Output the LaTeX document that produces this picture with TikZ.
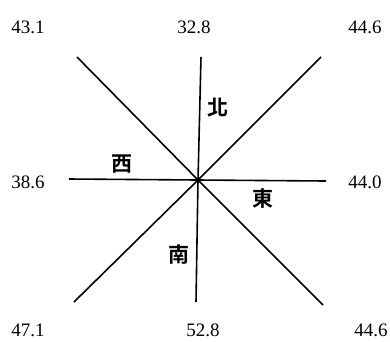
\documentclass[tikz,border=0pt]{standalone}
\usepackage{fontspec}
\setmainfont{Liberation Serif}
\newfontfamily\cjk{Noto Sans CJK TC}[BoldFont={* Bold}]
\usetikzlibrary{positioning}
\tikzset{
  ray/.style={line width=1.6pt,draw=black},
  val/.style={font=\fontsize{19}{20}\selectfont,inner sep=0pt},
  dir/.style={font=\cjk\bfseries\fontsize{21}{22}\selectfont,inner sep=0pt}
}

\begin{document}
\begin{tikzpicture}[x=1pt,y=-1pt]
  \useasboundingbox (0,0) rectangle (390,341);
  \coordinate (c) at (198,180);
  \coordinate (nw) at (77,57);
  \coordinate (n) at (201,57);
  \coordinate (ne) at (321,57);
  \coordinate (w) at (69,179);
  \coordinate (e) at (326,181);
  \coordinate (sw) at (74,302);
  \coordinate (s) at (196,302);
  \coordinate (se) at (323,305);
  % rays
  \draw[ray] (nw) -- (c) -- (se);
  \draw[ray] (ne) -- (c) -- (sw);
  \draw[ray] (n) -- (c) -- (s);
  \draw[ray] (w) -- (c) -- (e);
  % values
  \node[val] (vnw) at (28,27) {43.1};
  \node[val] (vn) at (194,27) {32.8};
  \node[val] (vne) at (365,27) {44.6};
  \node[val] (vw) at (28,182) {38.6};
  \node[val] (ve) at (365,182) {44.0};
  \node[val] (vsw) at (28,330) {47.1};
  \node[val] (vs) at (203,330) {52.8};
  \node[val] (vse) at (371,330) {44.6};
  % directions
  \node[dir] (north) at (218,108) {北};
  \node[dir] (west) at (122,164) {西};
  \node[dir] (east) at (263,199) {東};
  \node[dir] (south) at (179,255) {南};
\end{tikzpicture}
\end{document}
